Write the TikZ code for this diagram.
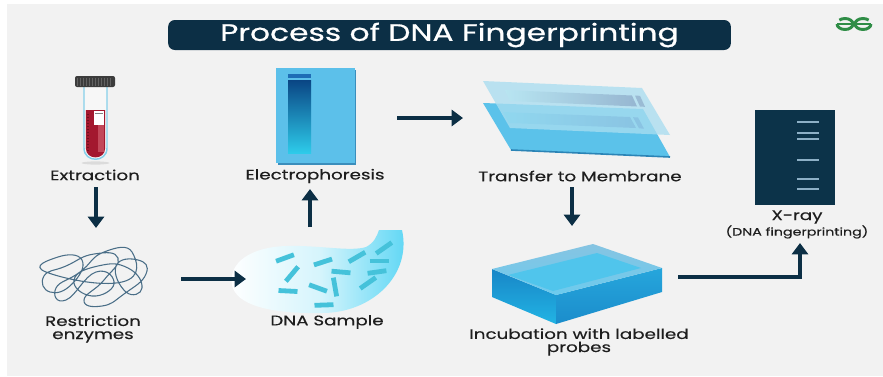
\documentclass[tikz,border=0pt]{standalone}
\usepackage{fontspec}
\setmainfont{Poppins}[FakeStretch=1.32, FakeBold=0.35]
\newfontfamily\headfont{Poppins}[FakeStretch=1.32, FakeBold=0.7]
\usetikzlibrary{arrows.meta}

\definecolor{paper}{HTML}{F2F2F2}
\definecolor{navy}{HTML}{0C2F45}
\definecolor{ink}{HTML}{1E1E1E}
\definecolor{gfg}{HTML}{2F8D46}
\definecolor{capgray}{HTML}{3C3C3C}
\definecolor{capline}{HTML}{626262}
\definecolor{tubeblue}{HTML}{86D0EA}
\definecolor{blood}{HTML}{A3182F}
\definecolor{bloodlight}{HTML}{C2485A}
\definecolor{tanglec}{HTML}{4A6E87}
\definecolor{blobcyan}{HTML}{58D5F4}
\definecolor{fragc}{HTML}{45C2DA}
\definecolor{gel}{HTML}{5CC0EA}
\definecolor{geledge}{HTML}{3B8EBC}
\definecolor{lanetop}{HTML}{0A4584}
\definecolor{lanebot}{HTML}{2DCBEA}
\definecolor{sheet}{HTML}{5BC2EA}
\definecolor{sheetedge}{HTML}{2B84B6}
\definecolor{film}{HTML}{A9DDF0}
\definecolor{bandA}{HTML}{3CC6EC}
\definecolor{bandB}{HTML}{1E6DB6}
\definecolor{filmbandA}{HTML}{B8E6F2}
\definecolor{filmbandB}{HTML}{93B2CE}
\definecolor{slabtop}{HTML}{86C4E2}
\definecolor{slabtopB}{HTML}{6CCBEE}
\definecolor{pool}{HTML}{50C5EC}
\definecolor{slabL}{HTML}{1886C7}
\definecolor{slabLb}{HTML}{22B4E4}
\definecolor{slabR}{HTML}{26A6DC}
\definecolor{xrayc}{HTML}{0C3349}
\definecolor{xband}{HTML}{8DB0C6}

\begin{document}
\begin{tikzpicture}[x=0.75pt, y=-0.75pt,
  lbl/.style={font=\fontsize{10.4}{9.8}\selectfont, text=ink, align=center, inner sep=0pt},
  smalllbl/.style={font=\fontsize{8.1}{9.8}\selectfont, text=ink, align=center, inner sep=0pt},
  flow/.style={draw=navy, line width=3pt, -{Triangle[width=12pt,length=8.5pt]}},
  fragment/.style={draw=fragc, line width=3.6pt},
  ribline/.style={draw=capline, line width=0.8pt},
  xbandline/.style={draw=xband, line width=1.5pt},
]
\useasboundingbox (0,0) rectangle (883,376);
\fill[white] (0,0) rectangle (883,376);
\fill[paper] (7,4) rectangle (883,376);

% ---- heading and logo ----
\node[fill=navy, rounded corners=5pt, minimum width=422pt, minimum height=22.5pt,
      text=white, font=\headfont\fontsize{17.8}{18}\selectfont, inner sep=0pt]
      (title) at (449.5,35) {Process of DNA Fingerprinting};
\begin{scope}[shift={(854,24)}, x=0.75pt, y=0.75pt, draw=gfg, line width=2.2pt]
  \draw (-17,0) -- (-1,0);
  \draw (-17,0) arc[start angle=180, end angle=495, x radius=8, y radius=5.5];
  \draw (17,0) -- (1,0);
  \draw (17,0) arc[start angle=0, end angle=-315, x radius=8, y radius=5.5];
\end{scope}

% ---- test tube ----
\fill[gray!45, opacity=.5] (95.5,163) ellipse [x radius=14, y radius=1.6];
\filldraw[draw=tubeblue, line width=1.1pt, fill=white!94!gray]
  (84,86) -- (84,148) .. controls (84,163) and (107,163) .. (107,148) -- (107,86);
\fill[blood] (85.8,110) -- (85.8,148) .. controls (85.8,160.5) and (105.2,160.5) .. (105.2,148) -- (105.2,110) -- cycle;
\fill[bloodlight] (97.5,125) rectangle (104,152);
\foreach \yy in {114,117,...,150} \draw[draw=blood!70!black, line width=0.4pt] (86.5,\yy) -- (89,\yy);
\fill[white] (93.5,111) rectangle (104,125);
\draw[gray, line width=0.6pt] (95,113) -- (102.5,113);
\fill[capgray, rounded corners=1.5pt] (75,76) rectangle (115,87);
\foreach \xx in {77.5,80.5,...,113} \draw[ribline] (\xx,77.5) -- (\xx,85.5);

% ---- tangled DNA ----
\draw[tanglec, line width=0.8pt] plot[smooth cycle, tension=0.9] coordinates {
 (46,272) (58,257) (82,260) (72,284) (50,292) (44,276) (66,266) (94,254)
 (118,258) (104,280) (84,300) (102,306) (124,294) (146,274) (138,260)
 (116,266) (126,292) (142,288) (128,268) (98,266) (74,280) (92,296)
 (114,284) (96,272) (66,300) (56,288) (80,272) (104,252) (132,252) (122,282)};

% ---- DNA sample ----
\shade[left color=white, right color=blobcyan, middle color=white!75!blobcyan]
  (232,285) .. controls (228,262) and (252,247) .. (286,246)
  .. controls (320,245) and (350,252) .. (366,247)
  .. controls (374,243) and (377,236) .. (379,230)
  -- (402,230)
  .. controls (412,275) and (372,313) .. (322,313)
  .. controls (270,314) and (236,305) .. (232,285) -- cycle;
\foreach \fx/\fy/\fa in {285/258/20, 292/274/50, 288/291/-3, 318/288/-20, 335/287/100,
  323/262/18, 341/272/-5, 357/257/30, 379/261/0, 384/248/35, 377/272/8, 368/283/35, 324/305/2}
  \draw[fragment, rotate around={\fa:(\fx,\fy)}] (\fx-9.5,\fy) -- (\fx+9.5,\fy);

% ---- electrophoresis gel ----
\fill[geledge] (277.5,69.5) rectangle (356,164.5);
\fill[gel] (276,68) rectangle (354.5,163);
\fill[bandB] (288,74) rectangle (311,77.5);
\shade[top color=lanetop, bottom color=lanebot] (288,80) rectangle (311,153);

% ---- transfer sheets ----
\fill[sheet] (483,103) -- (643,109) -- (670,157) -- (511,150) -- cycle;
\draw[sheetedge, line width=1.2pt] (511,150) -- (670,157);
\shade[left color=bandA, right color=bandB] (503,112) -- (630,117) -- (636,128) -- (509,123) -- cycle;
\fill[bandB] (633,117.2) -- (638,117.4) -- (644,128.6) -- (639,128.4) -- cycle;
\fill[film, opacity=.78] (483,81) -- (642,88) -- (670,135) -- (510,128) -- cycle;
\shade[left color=filmbandA, right color=filmbandB, opacity=.9] (505,90) -- (632,95.5) -- (637,106.5) -- (510,101) -- cycle;
\fill[filmbandB, opacity=.8] (635,95.6) -- (640,95.8) -- (645,106.8) -- (640,106.6) -- cycle;

% ---- incubation slab ----
\shade[top color=slabL, bottom color=slabLb] (492,269) -- (556,295) -- (556,324) -- (492,297) -- cycle;
\shade[top color=slabR, bottom color=slabL!80!slabR] (556,295) -- (662,268) -- (662,292) -- (556,324) -- cycle;
\shade[top color=slabtop, bottom color=slabtopB] (492,269) -- (593,244) -- (662,268) -- (556,295) -- cycle;
\fill[pool] (508,275) -- (597,253) -- (641,268) -- (553,291) -- cycle;

% ---- x-ray film ----
\fill[xrayc] (755,110) rectangle (835,205);
\foreach \by in {122,133,139,160,179,189} \draw[xbandline] (797,\by) -- (819,\by);

% ---- labels ----
\node[lbl] (extraction) at (95,175) {Extraction};
\node[lbl] (restriction) at (93,329) {Restriction\\enzymes};
\node[lbl] (sample) at (327,322) {DNA Sample};
\node[lbl] (electro) at (315,176) {Electrophoresis};
\node[lbl] (transfer) at (580,176) {Transfer to Membrane};
\node[lbl] (incubation) at (579,342) {Incubation with labelled\\probes};
\node[lbl] (xray) at (797,217) {X-ray};
\node[smalllbl] (xraysub) at (797,232) {(DNA fingerprinting)};

% ---- connectors ----
\coordinate (a1s) at (96,187);   \coordinate (a1e) at (96,228);
\coordinate (a2s) at (181,279);  \coordinate (a2e) at (246,279);
\coordinate (a3s) at (310,227);  \coordinate (a3e) at (310,189);
\coordinate (a4s) at (397,118);  \coordinate (a4e) at (463,118);
\coordinate (a5s) at (572,187);  \coordinate (a5e) at (572,226);
\coordinate (a6s) at (678,277);  \coordinate (a6e) at (800,243);
\draw[flow] (a1s) -- (a1e);
\draw[flow] (a2s) -- (a2e);
\draw[flow] (a3s) -- (a3e);
\draw[flow] (a4s) -- (a4e);
\draw[flow] (a5s) -- (a5e);
\draw[flow] (a6s) -| (a6e);
\end{tikzpicture}
\end{document}
